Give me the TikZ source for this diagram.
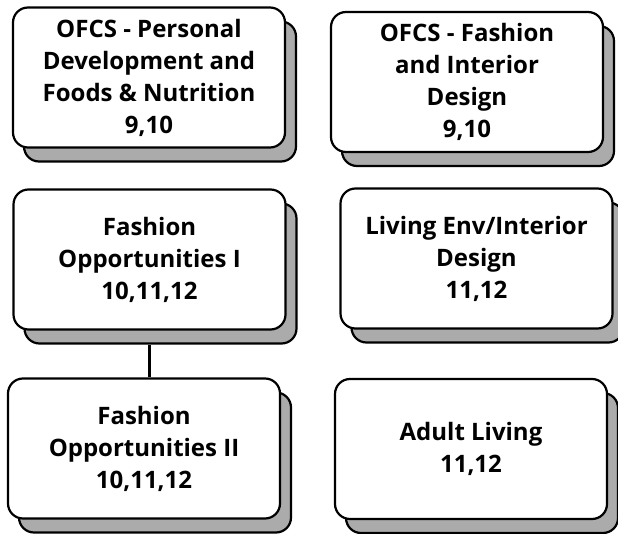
\documentclass[tikz,border=0pt]{standalone}
\usepackage{fontspec}
\setmainfont{Open Sans}
\usetikzlibrary{shadows}

\begin{document}
\begin{tikzpicture}
[x=1pt,y=-1pt,every node/.style={draw,line width=2.2pt,rounded corners=15pt,fill=white,
 minimum width=272pt,minimum height=140pt,align=center,
 font=\bfseries\fontsize{24}{32}\selectfont,
 copy shadow={shadow xshift=11pt,shadow yshift=-14pt,fill=black!33,draw=black,line width=2.2pt}}]
\useasboundingbox (0,0) rectangle (618,534);
\node (pd) at (149,77.5) {OFCS - Personal\\Development and\\Foods \& Nutrition\\9,10};
\node (fi) at (467,82) {OFCS - Fashion\\and Interior\\Design\\9,10};
\node (fo1) at (149.5,259.5) {Fashion\\Opportunities I\\10,11,12};
\node (le) at (476.5,258.5) {Living Env/Interior\\Design\\11,12};
\node (fo2) at (144,448.5) {Fashion\\Opportunities II\\10,11,12};
\node (al) at (471,449) {Adult Living\\11,12};
\draw[line width=2.2pt] ([yshift=-14pt]fo1.south) -- (fo1.south |- fo2.north);
\end{tikzpicture}
\end{document}
